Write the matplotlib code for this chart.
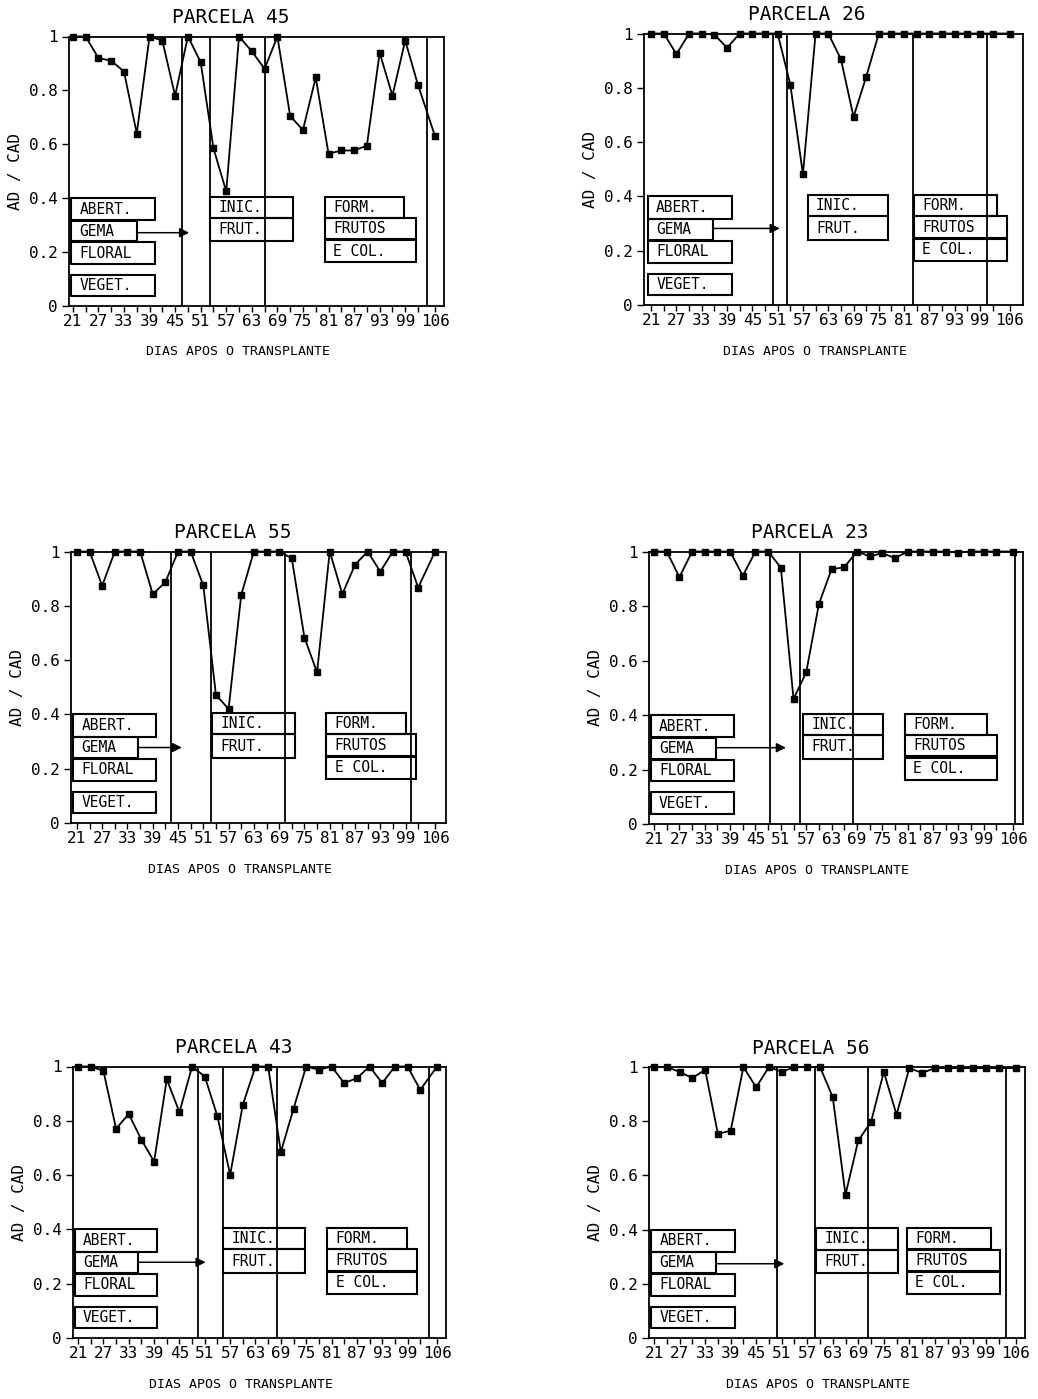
import matplotlib
matplotlib.use('Agg')
import matplotlib.pyplot as plt
from matplotlib.patches import Rectangle

# ---------------- data ----------------
days = [21, 24, 27, 30, 33, 36, 39, 42, 45, 48, 51, 54, 57, 60, 63, 66, 69,
        72, 75, 78, 81, 84, 87, 90, 93, 96, 99, 102, 106]
tick_days = [21, 27, 33, 39, 45, 51, 57, 63, 69, 75, 81, 87, 93, 99, 106]
tick_labels = ['21', '27', '33', '39', '45', '51', '57', '63', '69', '75',
               '81', '87', '93', '99', '106']
y_ticks = [0, 0.2, 0.4, 0.6, 0.8, 1]
y_tick_labels = ['0', '0.2', '0.4', '0.6', '0.8', '1']

titles = ['PARCELA 45', 'PARCELA 26', 'PARCELA 55',
          'PARCELA 23', 'PARCELA 43', 'PARCELA 56']

parcela45 = [1.00, 1.00, 0.92, 0.91, 0.87, 0.64, 1.00, 0.985, 0.78, 1.00,
             0.905, 0.585, 0.425, 1.00, 0.945, 0.88, 1.00, 0.705, 0.653,
             0.848, 0.565, 0.577, 0.577, 0.595, 0.94, 0.78, 0.985, 0.82, 0.63]
parcela26 = [1.00, 1.00, 0.924, 1.00, 1.00, 0.996, 0.947, 1.00, 1.00, 1.00,
             1.00, 0.812, 0.482, 1.00, 1.00, 0.906, 0.693, 0.84, 1.00,
             1.00, 1.00, 1.00, 1.00, 1.00, 1.00, 1.00, 1.00, 1.00, 1.00]
parcela55 = [1.00, 1.00, 0.874, 1.00, 1.00, 1.00, 0.843, 0.887, 1.00, 1.00,
             0.875, 0.472, 0.42, 0.84, 1.00, 1.00, 1.00, 0.975, 0.683,
             0.555, 1.00, 0.843, 0.951, 1.00, 0.926, 1.00, 1.00, 0.867, 1.00]
parcela23 = [1.00, 1.00, 0.906, 1.00, 1.00, 1.00, 1.00, 0.911, 1.00, 1.00,
             0.941, 0.459, 0.556, 0.807, 0.935, 0.942, 1.00, 0.982, 0.994,
             0.976, 1.00, 1.00, 1.00, 1.00, 0.996, 1.00, 1.00, 1.00, 1.00]
parcela43 = [1.00, 1.00, 0.984, 0.771, 0.825, 0.73, 0.65, 0.953, 0.832, 1.00,
             0.963, 0.816, 0.601, 0.859, 1.00, 1.00, 0.685, 0.844, 1.00,
             0.988, 1.00, 0.939, 0.957, 1.00, 0.939, 1.00, 1.00, 0.914, 1.00]
parcela56 = [1.00, 1.00, 0.982, 0.959, 0.99, 0.753, 0.765, 1.00, 0.925, 1.00,
             0.982, 1.00, 1.00, 1.00, 0.889, 0.529, 0.729, 0.797, 0.982,
             0.824, 0.996, 0.978, 0.996, 0.996, 0.996, 0.996, 0.996, 0.996, 0.996]
series = [parcela45, parcela26, parcela55, parcela23, parcela43, parcela56]

# phase boundaries (days) per panel
phase_lines = [
    [46.5, 53.2, 66.2, 104.1],
    [49.8, 53.2, 83.0, 100.6],
    [43.4, 52.9, 70.3, 100.2],
    [48.5, 55.6, 68.1, 106.4],
    [49.4, 55.3, 68.0, 104.1],
    [49.8, 58.9, 71.2, 103.8],
]

left_labels = ['ABERT.', 'GEMA', 'FLORAL', 'VEGET.']
mid_labels = ['INIC.', 'FRUT.']
right_labels = ['FORM.', 'FRUTOS', 'E COL.']

# ---------------- layout ----------------
FIG_W, FIG_H = 1038, 1399
# axes extents in pixels: (left, right, top, bottom)
ax_px = [
    (69, 444, 36.5, 306),
    (644, 1023, 33.5, 305),
    (71, 446, 551.5, 823),
    (649, 1023, 551.5, 824),
    (73, 446, 1066.5, 1338),
    (649, 1025, 1067, 1338),
]
xlims = [(20.1, 108.1), (19.3, 109.2), (19.6, 108.6),
         (19.8, 108.3), (19.8, 108.1), (19.8, 108.2)]

# box x extents per panel: left_x0, abert_x1, gema_x1, mid_x0, mid_x1,
# right_x0, form_x1, frutos_x1, arrow_tip, arrow_y
box_x = [
    (20.6, 40.2, 36.0, 53.3, 72.7, 80.2, 98.7, 101.6, 48.3, 0.272),
    (20.2, 40.1, 35.7, 58.1, 77.1, 83.3, 103.0, 105.5, 51.5, 0.282),
    (20.1, 39.7, 35.5, 53.1, 72.7, 80.2, 99.0, 101.4, 45.9, 0.278),
    (20.2, 39.8, 35.6, 56.3, 75.1, 80.4, 99.8, 102.2, 52.2, 0.280),
    (20.2, 39.7, 35.3, 55.4, 74.8, 80.0, 98.9, 101.2, 51.2, 0.279),
    (20.3, 40.0, 35.5, 59.1, 78.4, 80.4, 100.1, 102.4, 51.6, 0.274),
]
left_y = [(0.318, 0.400), (0.240, 0.316), (0.156, 0.236), (0.036, 0.116)]
mid_y = [(0.326, 0.405), (0.240, 0.326)]
right_y = [(0.328, 0.405), (0.248, 0.326), (0.162, 0.244)]

FONT = 'DejaVu Sans Mono'
plt.rcParams['font.family'] = [FONT, 'DejaVu Sans']

fig = plt.figure(figsize=(FIG_W / 100, FIG_H / 100), dpi=100)


def box(ax, x0, x1, y0, y1, label):
    ax.add_patch(Rectangle((x0, y0), x1 - x0, y1 - y0, fill=False,
                           edgecolor='black', linewidth=1.5, zorder=3))
    ax.annotate(label, xy=(x0, (y0 + y1) / 2), xytext=(6, 0),
                textcoords='offset points', ha='left', va='center',
                fontsize=10.5, family=FONT, zorder=4)


for i in range(6):
    l, r, t, b = ax_px[i]
    ax = fig.add_axes([l / FIG_W, 1 - b / FIG_H, (r - l) / FIG_W, (b - t) / FIG_H])
    ax.set_xlim(*xlims[i])
    ax.set_ylim(0, 1)
    for s in ax.spines.values():
        s.set_linewidth(1.3)
    ax.plot(days, series[i], color='black', linewidth=1.3, marker='s',
            markersize=5, markerfacecolor='black', markeredgecolor='black',
            zorder=5, clip_on=False)
    for xv in phase_lines[i]:
        ax.axvline(xv, color='black', linewidth=1.3, zorder=2)

    ax.set_xticks(days)
    ax.set_xticklabels([tick_labels[tick_days.index(d)] if d in tick_days else ''
                        for d in days])
    ax.set_yticks(y_ticks)
    ax.set_yticklabels(y_tick_labels)
    ax.tick_params(direction='out', length=4, width=1, labelsize=11.5, pad=2)
    ax.tick_params(axis='y', length=5, pad=3)

    ax.text(0.43, 1.07, titles[i], transform=ax.transAxes, ha='center',
            va='center', fontsize=14, family=FONT)
    ax.text(0.45, -0.17, 'DIAS APOS O TRANSPLANTE', transform=ax.transAxes,
            ha='center', va='center', fontsize=9.5, family=FONT)
    ax.set_ylabel('AD / CAD', fontsize=11.5, family=FONT, labelpad=4)

    lx0, abx1, gmx1, mx0, mx1, rx0, fmx1, frx1, tip, ay = box_x[i]
    box(ax, lx0, abx1, *left_y[0], left_labels[0])
    box(ax, lx0, gmx1, *left_y[1], left_labels[1])
    box(ax, lx0, abx1, *left_y[2], left_labels[2])
    box(ax, lx0, abx1, *left_y[3], left_labels[3])
    box(ax, mx0, mx1, *mid_y[0], mid_labels[0])
    box(ax, mx0, mx1, *mid_y[1], mid_labels[1])
    box(ax, rx0, fmx1, *right_y[0], right_labels[0])
    box(ax, rx0, frx1, *right_y[1], right_labels[1])
    box(ax, rx0, frx1, *right_y[2], right_labels[2])
    ax.annotate('', xy=(tip, ay), xytext=(gmx1, ay),
                arrowprops=dict(arrowstyle='-|>', color='black', lw=1.1,
                                mutation_scale=14, shrinkA=0, shrinkB=0),
                zorder=6)

fig.savefig('out.png', dpi=100)
